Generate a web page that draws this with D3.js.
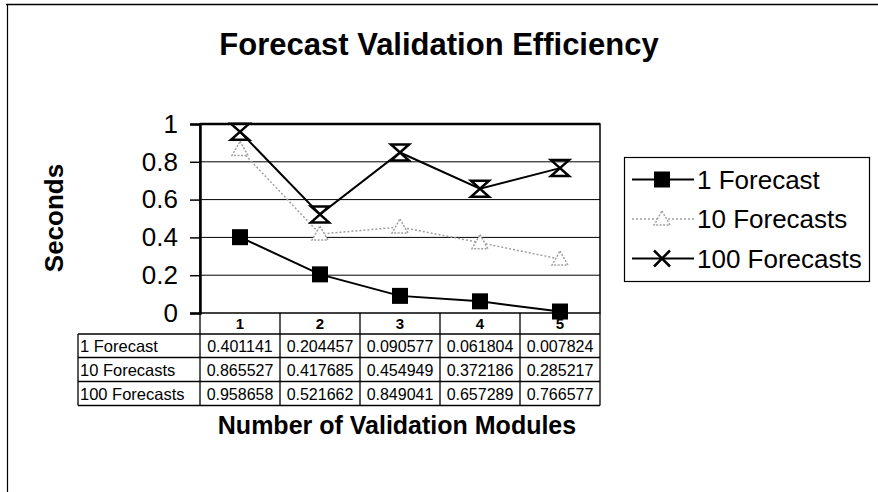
<!DOCTYPE html>
<html>
<head>
<meta charset="utf-8">
<script src="https://cdn.jsdelivr.net/npm/d3@7"></script>
<style>
  html, body { margin: 0; padding: 0; background: #fff; }
  svg { display: block; font-family: "Liberation Sans", Arial, sans-serif; }
</style>
</head>
<body>
<svg id="chart" width="878" height="492"></svg>
<script>
// Data
const categories = [1, 2, 3, 4, 5];
const seriesNames = ["1 Forecast", "10 Forecasts", "100 Forecasts"];
const oneForecast = [0.401141, 0.204457, 0.090577, 0.061804, 0.007824];
const tenForecasts = [0.865527, 0.417685, 0.454949, 0.372186, 0.285217];
const hundredForecasts = [0.958658, 0.521662, 0.849041, 0.657289, 0.766577];
const yTicks = [0, 0.2, 0.4, 0.6, 0.8, 1];
const yTickLabels = ["0", "0.2", "0.4", "0.6", "0.8", "1"];

const series = [
  { name: seriesNames[0], values: oneForecast, color: "#000", width: 2, dash: null, marker: "square" },
  { name: seriesNames[1], values: tenForecasts, color: "#a0a0a0", width: 1.5, dash: "2,2", marker: "triangle" },
  { name: seriesNames[2], values: hundredForecasts, color: "#000", width: 2, dash: null, marker: "x" }
];

const svg = d3.select("#chart");

// Outer frame (top and left edges)
svg.append("line").attr("x1", 6).attr("x2", 878).attr("y1", 4.5).attr("y2", 4.5)
  .attr("stroke", "#000").attr("stroke-width", 1.5);
svg.append("line").attr("x1", 7.5).attr("x2", 7.5).attr("y1", 4).attr("y2", 492)
  .attr("stroke", "#000").attr("stroke-width", 1.2);

// Title
svg.append("text").attr("x", 439).attr("y", 55).attr("text-anchor", "middle")
  .attr("font-size", 31).attr("font-weight", "bold").text("Forecast Validation Efficiency");

// Plot area
const plotLeft = 200, plotRight = 600, plotTop = 124, plotBottom = 313;
const x = d3.scaleBand().domain(categories).range([plotLeft, plotRight]);
const y = d3.scaleLinear().domain([0, 1]).range([plotBottom, plotTop]);

// Gridlines
svg.append("g").selectAll("line").data(yTicks.filter(d => d > 0 && d < 1)).join("line")
  .attr("x1", plotLeft).attr("x2", plotRight)
  .attr("y1", d => y(d)).attr("y2", d => y(d))
  .attr("stroke", "#000").attr("stroke-width", 1);

// Plot border
svg.append("rect").attr("x", plotLeft).attr("y", plotTop)
  .attr("width", plotRight - plotLeft).attr("height", plotBottom - plotTop)
  .attr("fill", "none").attr("stroke", "#000").attr("stroke-width", 1.5);
svg.append("line").attr("x1", plotLeft).attr("x2", plotRight).attr("y1", plotTop).attr("y2", plotTop)
  .attr("stroke", "#000").attr("stroke-width", 2.5);

// Y axis
const yAxis = d3.axisLeft(y).tickValues(yTicks)
  .tickFormat((d, i) => yTickLabels[i]).tickSize(10).tickPadding(12);
const gy = svg.append("g").attr("transform", `translate(${plotLeft},0)`).call(yAxis);
gy.select(".domain").attr("stroke", "#000").attr("stroke-width", 2.5);
gy.selectAll(".tick line").attr("stroke", "#000").attr("stroke-width", 1.5);
gy.selectAll(".tick text").attr("font-size", 26).attr("fill", "#000")
  .attr("font-family", "Liberation Sans, Arial, sans-serif");

// Y axis title
svg.append("text").attr("transform", "translate(63,218) rotate(-90)")
  .attr("text-anchor", "middle").attr("font-size", 26).attr("font-weight", "bold").text("Seconds");

// Markers
function drawMarker(g, type, cx, cy, s, color) {
  if (type === "square") {
    g.append("rect").attr("x", cx - 8).attr("y", cy - 8).attr("width", 16).attr("height", 16)
      .attr("fill", "#000");
  } else if (type === "triangle") {
    g.append("path").attr("d", `M${cx},${cy - 8}L${cx + 8},${cy + 6}L${cx - 8},${cy + 6}Z`)
      .attr("fill", "#fff").attr("stroke", color).attr("stroke-width", 1.5)
      .attr("stroke-dasharray", "2,1.5");
  } else if (type === "x") {
    const h = s;
    g.append("path").attr("d",
      `M${cx - h},${cy - h}L${cx + h},${cy + h}M${cx + h},${cy - h}L${cx - h},${cy + h}`)
      .attr("stroke", color).attr("stroke-width", 2.5).attr("fill", "none");
  }
}
function drawHourglass(g, cx, cy) {
  g.append("path").attr("d",
    `M${cx - 9},${cy - 8}L${cx + 9},${cy - 8}L${cx - 9},${cy + 8}L${cx + 9},${cy + 8}Z`)
    .attr("stroke", "#000").attr("stroke-width", 2.5).attr("fill", "none").attr("stroke-linejoin", "miter");
}

const line = d3.line().x((d, i) => x(categories[i]) + x.bandwidth() / 2).y(d => y(d));

series.forEach(s => {
  const g = svg.append("g");
  g.append("path").attr("d", line(s.values)).attr("fill", "none")
    .attr("stroke", s.color).attr("stroke-width", s.width)
    .attr("stroke-dasharray", s.dash);
  s.values.forEach((v, i) => {
    const cx = x(categories[i]) + x.bandwidth() / 2, cy = y(v);
    if (s.marker === "x") drawHourglass(g, cx, cy);
    else drawMarker(g, s.marker, cx, cy, 7, s.color);
  });
});

// Data table below the axis
const labelLeft = 78;
const rowTops = [313, 334, 357.5, 381.5, 405.5];
const tbl = svg.append("g");
// Header row: category numbers
categories.forEach(c => {
  tbl.append("text").attr("x", x(c) + x.bandwidth() / 2).attr("y", rowTops[0] + 16)
    .attr("text-anchor", "middle").attr("font-size", 15).attr("font-weight", "bold").text(c);
});
// Vertical column lines
[plotLeft, ...categories.map(c => x(c) + x.bandwidth())].forEach(xx => {
  tbl.append("line").attr("x1", xx).attr("x2", xx).attr("y1", rowTops[0]).attr("y2", rowTops[4])
    .attr("stroke", "#000").attr("stroke-width", 1.3);
});
tbl.append("line").attr("x1", labelLeft).attr("x2", labelLeft).attr("y1", rowTops[1]).attr("y2", rowTops[4])
  .attr("stroke", "#000").attr("stroke-width", 1.3);
// Horizontal row lines
rowTops.slice(1).forEach(yy => {
  tbl.append("line").attr("x1", labelLeft).attr("x2", plotRight).attr("y1", yy).attr("y2", yy)
    .attr("stroke", "#000").attr("stroke-width", 1.3);
});
// Row labels and values
series.forEach((s, r) => {
  const yy = (rowTops[r + 1] + rowTops[r + 2]) / 2 + 6;
  tbl.append("text").attr("x", labelLeft + 2).attr("y", yy).attr("font-size", 16.5).text(s.name);
  s.values.forEach((v, i) => {
    tbl.append("text").attr("x", x(categories[i]) + x.bandwidth() / 2).attr("y", yy)
      .attr("text-anchor", "middle").attr("font-size", 16).text(v.toFixed(6));
  });
});

// X axis title
svg.append("text").attr("x", 397).attr("y", 434).attr("text-anchor", "middle")
  .attr("font-size", 25).attr("font-weight", "bold").text("Number of Validation Modules");

// Legend
const lg = svg.append("g");
lg.append("rect").attr("x", 624.5).attr("y", 157.5).attr("width", 245).attr("height", 124)
  .attr("fill", "#fff").attr("stroke", "#000").attr("stroke-width", 1.2);
series.forEach((s, i) => {
  const cy = 179.5 + i * 39.5;
  lg.append("line").attr("x1", 632).attr("x2", 694).attr("y1", cy).attr("y2", cy)
    .attr("stroke", s.color).attr("stroke-width", s.width).attr("stroke-dasharray", s.dash);
  drawMarker(lg, s.marker, 662, cy, 8, s.color);
  lg.append("text").attr("x", 697).attr("y", cy + 9).attr("font-size", 26).text(s.name);
});
</script>
</body>
</html>
